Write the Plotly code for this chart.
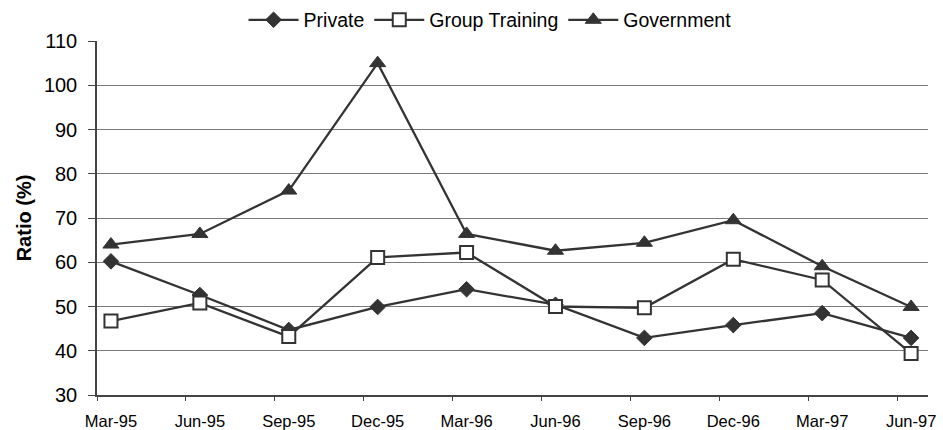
import plotly.graph_objects as go

quarters = ["Mar-95", "Jun-95", "Sep-95", "Dec-95", "Mar-96",
            "Jun-96", "Sep-96", "Dec-96", "Mar-97", "Jun-97"]
private = [60.2, 52.6, 44.7, 49.9, 53.9, 50.4, 42.9, 45.8, 48.5, 42.9]
group_training = [46.7, 50.8, 43.2, 61.1, 62.2, 50.0, 49.7, 60.7, 56.0, 39.4]
government = [64.0, 66.4, 76.2, 105.0, 66.4, 62.6, 64.4, 69.5, 59.1, 49.9]

y_ticks = [30, 40, 50, 60, 70, 80, 90, 100, 110]

LINE = "#333333"
AXIS = "#444444"
FONT = "Liberation Sans, Arial, sans-serif"

x = list(range(len(quarters)))
x_range = [-0.157, len(quarters) - 1 + 0.19]

fig = go.Figure()

series = [
    ("Private", private,
     dict(symbol="diamond", size=12, color=LINE, line=dict(color=LINE, width=1))),
    ("Group Training", group_training,
     dict(symbol="square", size=13, color="white", line=dict(color=LINE, width=2))),
    ("Government", government,
     dict(symbol="triangle-up", size=14, color=LINE, line=dict(color=LINE, width=1))),
]
for name, vals, marker in series:
    fig.add_trace(go.Scatter(
        x=x, y=vals, name=name, mode="lines+markers",
        line=dict(color=LINE, width=2.3), marker=marker,
    ))

# separate axis carrying the category-boundary tick marks
fig.add_trace(go.Scatter(x=[x_range[0]], y=[30], xaxis="x2", mode="markers",
                         marker=dict(opacity=0), showlegend=False, hoverinfo="skip"))

fig.update_layout(
    width=943, height=430,
    margin=dict(l=97, r=15, t=41, b=35, autoexpand=False),
    paper_bgcolor="white", plot_bgcolor="white",
    font=dict(family=FONT, color="#000000"),
    showlegend=True,
    legend=dict(orientation="h", x=0.473, xanchor="center", y=1.059, yanchor="middle",
                font=dict(size=19.5, family=FONT), itemwidth=50,
                tracegroupgap=0, bgcolor="rgba(0,0,0,0)"),
    xaxis=dict(
        range=x_range, tickmode="array", tickvals=x, ticktext=quarters,
        ticks="", showgrid=False, zeroline=False, automargin=False,
        showline=True, linecolor=AXIS, linewidth=1.5,
        tickfont=dict(size=16.5, family=FONT), ticklabelstandoff=10,
    ),
    xaxis2=dict(
        overlaying="x", range=x_range, tickmode="array",
        tickvals=[k - 0.157 for k in x], showticklabels=False,
        ticks="outside", ticklen=5, tickcolor=AXIS, tickwidth=1.2, automargin=False,
        showgrid=False, zeroline=False, side="bottom", anchor="y",
    ),
    yaxis=dict(
        range=[30, 110], tickmode="array", tickvals=y_ticks,
        ticks="outside", ticklen=7, tickcolor=AXIS, tickwidth=1.2,
        showgrid=True, gridcolor="#7a7a7a", gridwidth=1.4, automargin=False,
        zeroline=False, showline=True, linecolor=AXIS, linewidth=1.5,
        tickfont=dict(size=20, family=FONT), ticklabelstandoff=7,
        title=dict(text="<b>Ratio (%)</b>", font=dict(size=20, family=FONT), standoff=7),
    ),
)

fig.write_html("out.html")
